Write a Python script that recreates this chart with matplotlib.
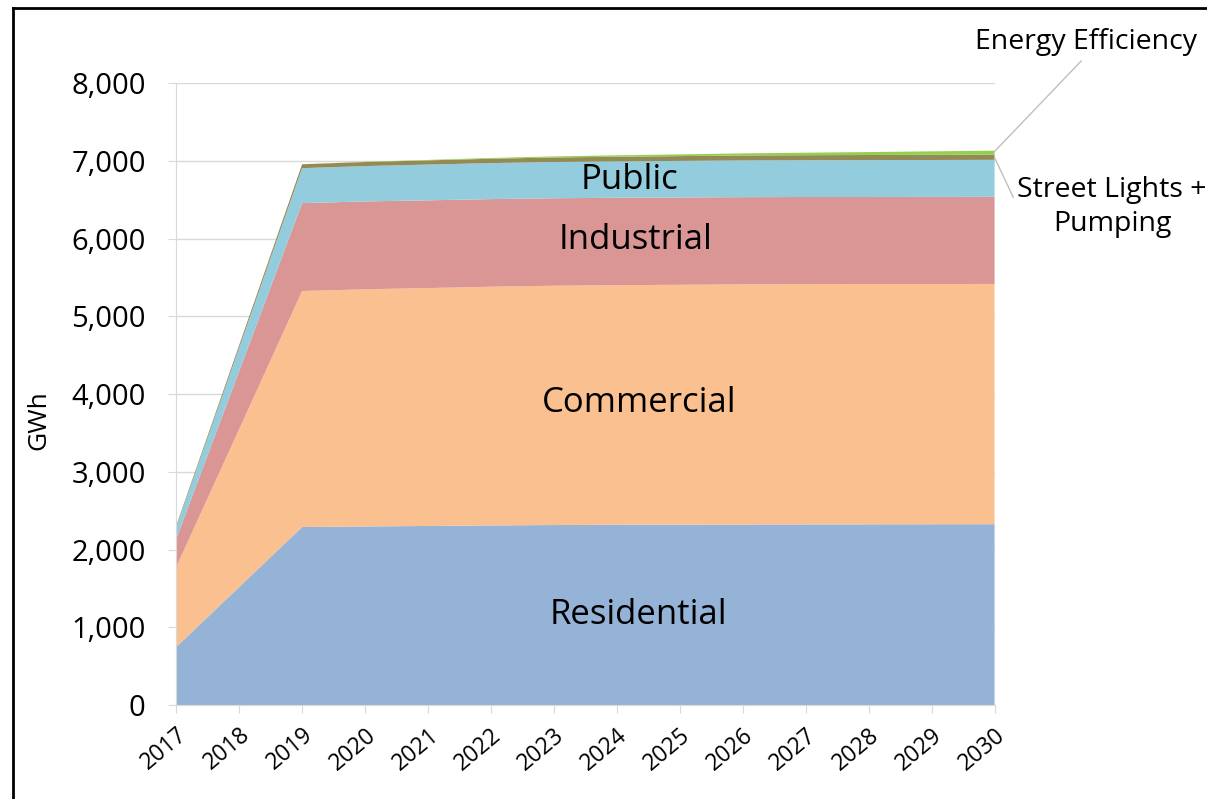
import numpy as np
import matplotlib
matplotlib.use("Agg")
import matplotlib.pyplot as plt
from matplotlib.lines import Line2D
from matplotlib.ticker import FuncFormatter

plt.rcParams['font.family'] = ['Open Sans', 'DejaVu Sans']

years = list(range(2017, 2031))
residential = [746, 1518, 2290, 2297, 2303, 2310, 2315, 2318, 2320, 2322, 2323, 2324, 2325, 2326]
commercial = [1030, 2030, 3035, 3050, 3060, 3070, 3078, 3082, 3085, 3088, 3090, 3090, 3090, 3090]
industrial = [360, 745, 1130, 1130, 1128, 1127, 1125, 1124, 1123, 1122, 1121, 1120, 1120, 1120]
public = [150, 300, 450, 455, 460, 463, 466, 468, 470, 472, 473, 474, 475, 476]
street_lights = [20, 35, 50, 52, 54, 56, 58, 60, 62, 64, 65, 66, 67, 68]
energy_eff = [0, 0, 0, 3, 6, 10, 14, 18, 22, 27, 32, 38, 44, 50]

colors = ['#95b3d7', '#fac090', '#d99694', '#93cddd', '#948a54', '#92d050']

fig = plt.figure(figsize=(12.07, 7.99), dpi=100)
ax = fig.add_axes([0.146, 0.1176, 0.678, 0.7785])

ax.stackplot(years, residential, commercial, industrial, public, street_lights, energy_eff,
             colors=colors, linewidth=0)

ax.set_xlim(2017, 2030)
ax.set_ylim(0, 8000)
ax.set_yticks(range(0, 8001, 1000))
ax.yaxis.set_major_formatter(FuncFormatter(lambda v, p: f"{int(v):,}"))
ax.set_xticks(years)
ax.set_xticklabels([str(y) for y in years], rotation=40, ha='right', rotation_mode='anchor', fontsize=16.5)
ax.tick_params(axis='y', labelsize=21, length=6, color='#d9d9d9', pad=16)
ax.tick_params(axis='x', length=6, color='#d9d9d9', pad=7)
ax.grid(axis='y', color='#d9d9d9', linewidth=1)
ax.set_axisbelow(True)
for s in ['top', 'right']:
    ax.spines[s].set_visible(False)
for s in ['left', 'bottom']:
    ax.spines[s].set_color('#d9d9d9')
ax.set_ylabel('GWh', fontsize=19)
ax.yaxis.set_label_coords(-0.153, 0.458)

# labels in the bands
ax.text(2024.35, 1157, 'Residential', ha='center', va='center', fontsize=25)
ax.text(2024.35, 3884, 'Commercial', ha='center', va='center', fontsize=25)
ax.text(2024.3, 5980, 'Industrial', ha='center', va='center', fontsize=25)
ax.text(2024.2, 6752, 'Public', ha='center', va='center', fontsize=25)

# callouts on the right
tot = np.cumsum([residential[-1], commercial[-1], industrial[-1], public[-1], street_lights[-1], energy_eff[-1]])
ax.annotate('Energy Efficiency', xy=(2030, tot[-1] - 10), xytext=(1086, 757),
            textcoords='figure pixels', ha='center', va='center', fontsize=20.5,
            annotation_clip=False,
            arrowprops=dict(arrowstyle='-', color='#bfbfbf', lw=1, shrinkA=2, shrinkB=0,
                            relpos=(0.5, 0.0)))
ax.annotate('Street Lights +\nPumping', xy=(2030, tot[-2] - 40), xytext=(1112, 592),
            textcoords='figure pixels', ha='center', va='center', fontsize=20.5,
            annotation_clip=False, linespacing=1.3,
            arrowprops=dict(arrowstyle='-', color='#bfbfbf', lw=1, shrinkA=2, shrinkB=0,
                            relpos=(0.0, 0.52)))

# frame lines of the original image
fig.add_artist(Line2D([13 / 1207, 13 / 1207], [0, 1 - 8 / 799], transform=fig.transFigure, color='black', lw=2))
fig.add_artist(Line2D([13 / 1207, 1], [1 - 8 / 799, 1 - 8 / 799], transform=fig.transFigure, color='black', lw=2))

fig.savefig('out.png', dpi=100)
